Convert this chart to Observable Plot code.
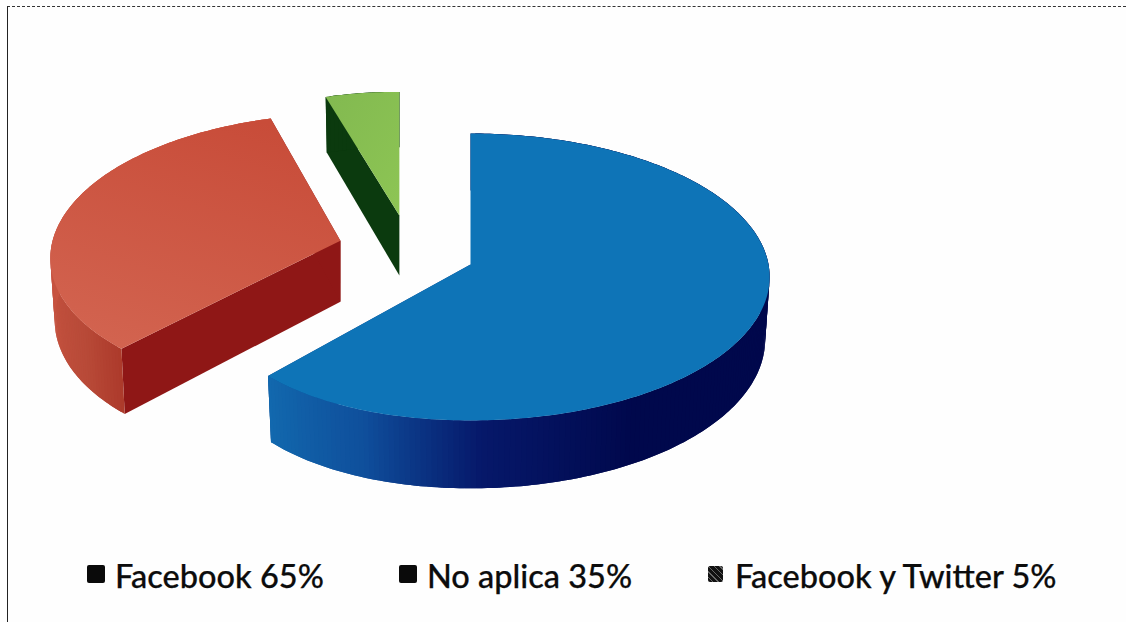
<!DOCTYPE html>
<html>
<head>
<meta charset="utf-8">
<script src="https://cdn.jsdelivr.net/npm/d3@7"></script>
<script src="https://cdn.jsdelivr.net/npm/@observablehq/plot@0.6"></script>
<style>
  html, body { margin: 0; background: #fefefe; }
  #page { position: relative; width: 1126px; height: 622px; overflow: hidden; }
  #frame { position: absolute; left: 7px; top: 6px; right: 0; bottom: 0;
           border-left: 1px solid #222; border-top: 1px dashed #333; }
  #chart { position: absolute; left: 0; top: 0; }
  #legend { position: absolute; left: 0; top: 552px; width: 1126px; height: 50px;
            font: 500 32.5px Lato, "Open Sans", sans-serif; color: #0c0c0c; -webkit-text-stroke: 0.25px #0c0c0c; }
  .entry { position: absolute; top: 0; white-space: nowrap; line-height: 48px; }
  .swatch { position: absolute; left: -28px; top: 13px; width: 18px; height: 18px; background: #0a0a0a; border-radius: 2px; }
  .swatch.speckled { background: repeating-linear-gradient(45deg, #111 0 3px, #666 3px 4px); width: 15px; height: 16px; left: -27px; top: 14px; }
</style>
</head>
<body>
<div id="page">
  <div id="frame"></div>
  <div id="chart"></div>
  <div id="legend"></div>
</div>
<script>
// Shares of social network use
const categories = ["Facebook", "No aplica", "Facebook y Twitter"];
const values = [65, 35, 5];

// Exploded offset of each slice on the disc plane
const offsetsU = [0, -0.443, -0.246];
const offsetsV = [0, -0.17, -0.355];
// Horizontal foreshortening on the left of each slice, and whether the
// slice's own width follows its distance from the viewer
const leftPinch = [0.095, 0.02, 0.22];
const upright = [false, false, true];

// Face colours per slice
const topColors = ["#0e74b7", "url(#redTop)", "url(#greenTop)"];
const cutColors = ["#0b3f8a", "#8f1716", "#0b3a0e"];
const rimAngles = [[222.9, 200, 178, 150, 100], [222.9, 235, 260, 300, 343], [343, 360]];
const rimColors = [
  ["#1269ae", "#0f4f9c", "#06186a", "#00084c", "#00084c"],
  ["#ad3a2b", "#b84a38", "#c65340", "#cb5540", "#cb5540"],
  ["#0b3a0e", "#0b3a0e"]
];

// Oblique view of the pie: a slight perspective on a tilted disc
const tilt = 0.087;
const depth = 0.435;
const shrink = 0.985;

const total = d3.sum(values);
const rows = [];
let polygonId = 0;
function addPolygon(points, fill) {
  const id = polygonId++;
  for (const p of points) rows.push({...p, id, fill});
}

// Project a point given relative to the slice's apex (a, b) on the disc
function projector(i) {
  const du = offsetsU[i], dv = offsetsV[i];
  const apexScale = 1 / (1 - tilt * dv);
  const apexX = du * apexScale;
  return (a, b, lower) => {
    const u = a + du, v = b + dv;
    const s = 1 / (1 - tilt * v);
    const pinch = a < 0 ? 1 + leftPinch[i] * a : 1;
    let x = upright[i] ? apexX + a * s * pinch : u * s - a * s * (1 - pinch);
    if (lower) x = apexX + (x - apexX) * shrink;
    return {x, y: lower ? (v + depth) * s : v * s};
  };
}

let start = 0;
values.forEach((value, i) => {
  const end = start + value / total * 360;
  const project = projector(i);
  const rad = a => a * Math.PI / 180;
  const rimPoint = (a, lower) => project(Math.sin(rad(a)), -Math.cos(rad(a)), lower);
  const apex = lower => project(0, 0, lower);
  const shade = d3.scaleLinear(rimAngles[i], rimColors[i]).clamp(true);
  const steps = d3.range(start, end, 1).concat(end);

  // Radial cut faces go underneath the rim and the upper face
  for (const a of [start, end]) {
    addPolygon([apex(), rimPoint(a), rimPoint(a, true), apex(true)], cutColors[i]);
  }
  // Outer rim in short overlapping pieces, so the shading can follow the angle
  for (let k = 0; k < steps.length - 1; k++) {
    const a = steps[k], b = steps[k + 1];
    const c = Math.min(b + 1, end);
    addPolygon([rimPoint(a), rimPoint(b), rimPoint(c), rimPoint(c, true), rimPoint(b, true), rimPoint(a, true)], shade((a + b) / 2));
  }
  // Upper face
  addPolygon([apex(), ...steps.map(a => rimPoint(a))], topColors[i]);
  start = end;
});

const plot = Plot.plot({
  width: 1126,
  height: 550,
  margin: 0,
  style: {background: "transparent"},
  x: {domain: [-1, 1], range: [172, 768], axis: null},
  y: {domain: [-1, 1], range: [121.6, 406.4], axis: null},
  color: {type: "identity"},
  marks: [
    Plot.line(rows, {x: "x", y: "y", z: "id", fill: "fill", stroke: "none", curve: "linear"})
  ]
});
plot.insertAdjacentHTML("afterbegin", `<defs>
  <linearGradient id="redTop" x1="0.7" y1="0" x2="0.3" y2="1">
    <stop offset="0" stop-color="#c84c39"/><stop offset="1" stop-color="#d2634f"/>
  </linearGradient>
  <linearGradient id="greenTop" x1="0" y1="0" x2="1" y2="1">
    <stop offset="0" stop-color="#82b950"/><stop offset="1" stop-color="#8dc554"/>
  </linearGradient>
</defs>`);
document.getElementById("chart").append(plot);

// Legend under the pie
const legendLeft = [115, 427, 735];
const legend = document.getElementById("legend");
categories.forEach((name, i) => {
  const entry = document.createElement("div");
  entry.className = "entry";
  entry.style.left = legendLeft[i] + "px";
  entry.textContent = `${name} ${values[i]}%`;
  const swatch = document.createElement("span");
  swatch.className = i === 2 ? "swatch speckled" : "swatch";
  entry.append(swatch);
  legend.append(entry);
});
</script>
</body>
</html>
